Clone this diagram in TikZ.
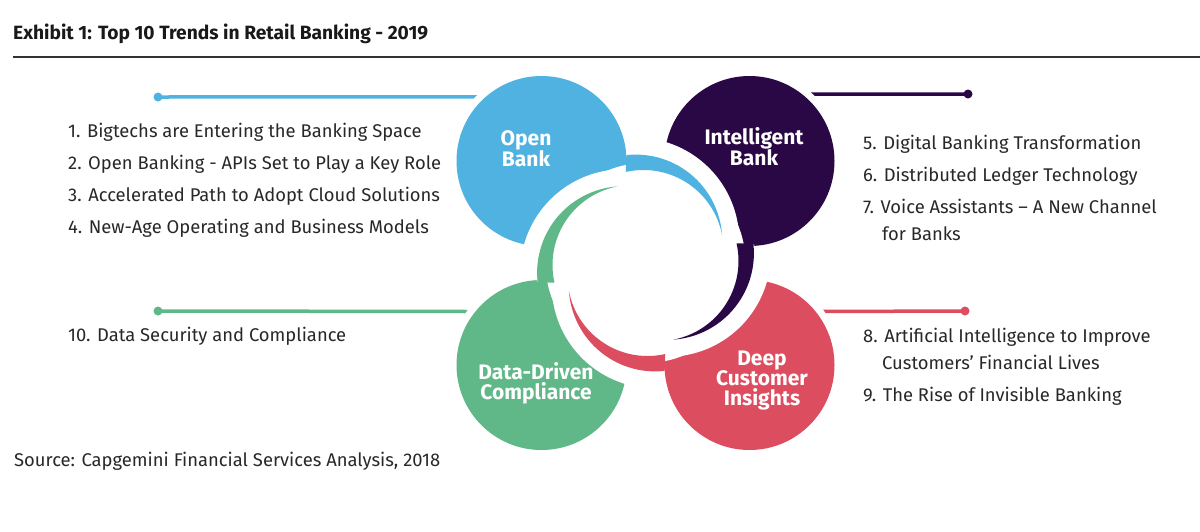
\documentclass[tikz,border=0pt]{standalone}
\usepackage{fontspec}
\setmainfont{Fira Sans}
\definecolor{cblue}{RGB}{80,178,224}
\definecolor{cpurple}{RGB}{42,8,69}
\definecolor{cred}{RGB}{221,77,96}
\definecolor{cgreen}{RGB}{96,183,136}
\definecolor{ctext}{RGB}{40,40,40}
\definecolor{crule}{RGB}{50,50,50}
\pgfdeclarelayer{bg}
\pgfsetlayers{bg,main}
\tikzset{
  bubble/.style={circle, minimum size=170pt, inner sep=0pt, outer sep=0pt, preaction={draw=white, line width=14pt}},
  dotn/.style={circle, minimum size=9pt, inner sep=0pt, outer sep=0pt},
  conn/.style={line width=3.5pt},
  lst/.style={anchor=base west, font=\fontsize{18.4}{27}\selectfont, text=ctext, inner sep=0pt, align=left},
  clabel/.style={anchor=base, font=\fontsize{21}{21}\selectfont\bfseries, text=white, inner sep=0pt, align=center},
}
\begin{document}
\begin{tikzpicture}[x=1pt,y=-1pt]
\useasboundingbox (0,0) rectangle (1200,531);
% title
\node[anchor=base west, inner sep=0pt, font=\fontsize{19.2}{24}\selectfont\bfseries, text=black!90] (title) at (13,39) {Exhibit 1: Top 10 Trends in Retail Banking - 2019};
\coordinate (r1) at (13,57);
\coordinate (r2) at (1200,57);
\draw[crule, line width=1.5pt] (r1) -- (r2);
% circles
\node[bubble, fill=cblue] (ob) at (541.5,161) {};
\node[bubble, fill=cpurple] (ib) at (749.5,161) {};
\node[bubble, fill=cred] (dci) at (749.5,365) {};
\node[bubble, fill=cgreen] (ddc) at (541.5,365) {};
% central white hole
\coordinate (O) at (645.5,263);
\fill[white] (O) circle[radius=100];
% tails
\foreach \ang/\col in {0/cblue, 90/cpurple, 180/cred, 270/cgreen}{
  \pgfmathsetmacro\cox{645.5-9.7*cos(\ang)+21.9*sin(\ang)}
  \pgfmathsetmacro\coy{263-9.7*sin(\ang)-21.9*cos(\ang)}
  \pgfmathsetmacro\cix{645.5-2*cos(\ang)+13*sin(\ang)}
  \pgfmathsetmacro\ciy{263-2*sin(\ang)-13*cos(\ang)}
  \draw[white, line width=34pt, line join=round]
    plot[variable=\q, domain=-88:-4.05, samples=60] ({\cox+86.5*cos(\q+\ang)}, {\coy+86.5*sin(\q+\ang)})
    -- plot[variable=\q, domain=-10.8:-100, samples=60] ({\cix+80*cos(\q+\ang)}, {\ciy+80*sin(\q+\ang)});
  \fill[\col]
    plot[variable=\q, domain=-96.3:-4.05, samples=60] ({\cox+86.5*cos(\q+\ang)}, {\coy+86.5*sin(\q+\ang)})
    -- plot[variable=\q, domain=-10.8:-102.8, samples=60] ({\cix+80*cos(\q+\ang)}, {\ciy+80*sin(\q+\ang)}) -- cycle;
}
% circle labels (anchor = baseline of last line)
\node[clabel] (tob) at (526,166) {Open\\Bank};
\node[clabel] (tib) at (754,165.5) {Intelligent\\Bank};
\node[clabel, font=\fontsize{21}{20}\selectfont\bfseries] (tdci) at (762,405) {Deep\\Customer\\Insights};
\node[clabel, font=\fontsize{21}{20}\selectfont\bfseries] (tddc) at (536,399) {Data-Driven\\Compliance};
% dots and connectors
\node[dotn, fill=cblue] (d1) at (158,97) {};
\node[dotn, fill=cpurple] (d2) at (968,94) {};
\node[dotn, fill=cgreen] (d3) at (158,311) {};
\node[dotn, fill=cred] (d4) at (965,311) {};
\begin{pgfonlayer}{bg}
\draw[conn, cblue] (d1.center) -- (ob.131);
\draw[conn, cpurple] (d2.center) -- (ib.52);
\draw[conn, cgreen] (d3.center) -- (ddc.141);
\draw[conn, cred] (d4.center) -- (dci.39);
\end{pgfonlayer}
% lists
\node[lst] (i1) at (68,137) {1. Bigtechs are Entering the Banking Space};
\node[lst] (i2) at (68,169) {2. Open Banking - APIs Set to Play a Key Role};
\node[lst] (i3) at (68,201.5) {3. Accelerated Path to Adopt Cloud Solutions};
\node[lst] (i4) at (68,233.5) {4. New-Age Operating and Business Models};
\node[lst] (i10) at (68,341.5) {10. Data Security and Compliance};
\node[lst] (i5) at (863,149) {5. Digital Banking Transformation};
\node[lst] (i6) at (863,181.5) {6. Distributed Ledger Technology};
\node[lst] (i7) at (863,240) {7. Voice Assistants – A New Channel\\\hspace*{19pt}for Banks};
\node[lst] (i8) at (863,369) {8. Artificial Intelligence to Improve\\\hspace*{19pt}Customers’ Financial Lives};
\node[lst] (i9) at (863,401.5) {9. The Rise of Invisible Banking};
% source
\node[lst] (src) at (14,466) {Source: Capgemini Financial Services Analysis, 2018};
\end{tikzpicture}
\end{document}
